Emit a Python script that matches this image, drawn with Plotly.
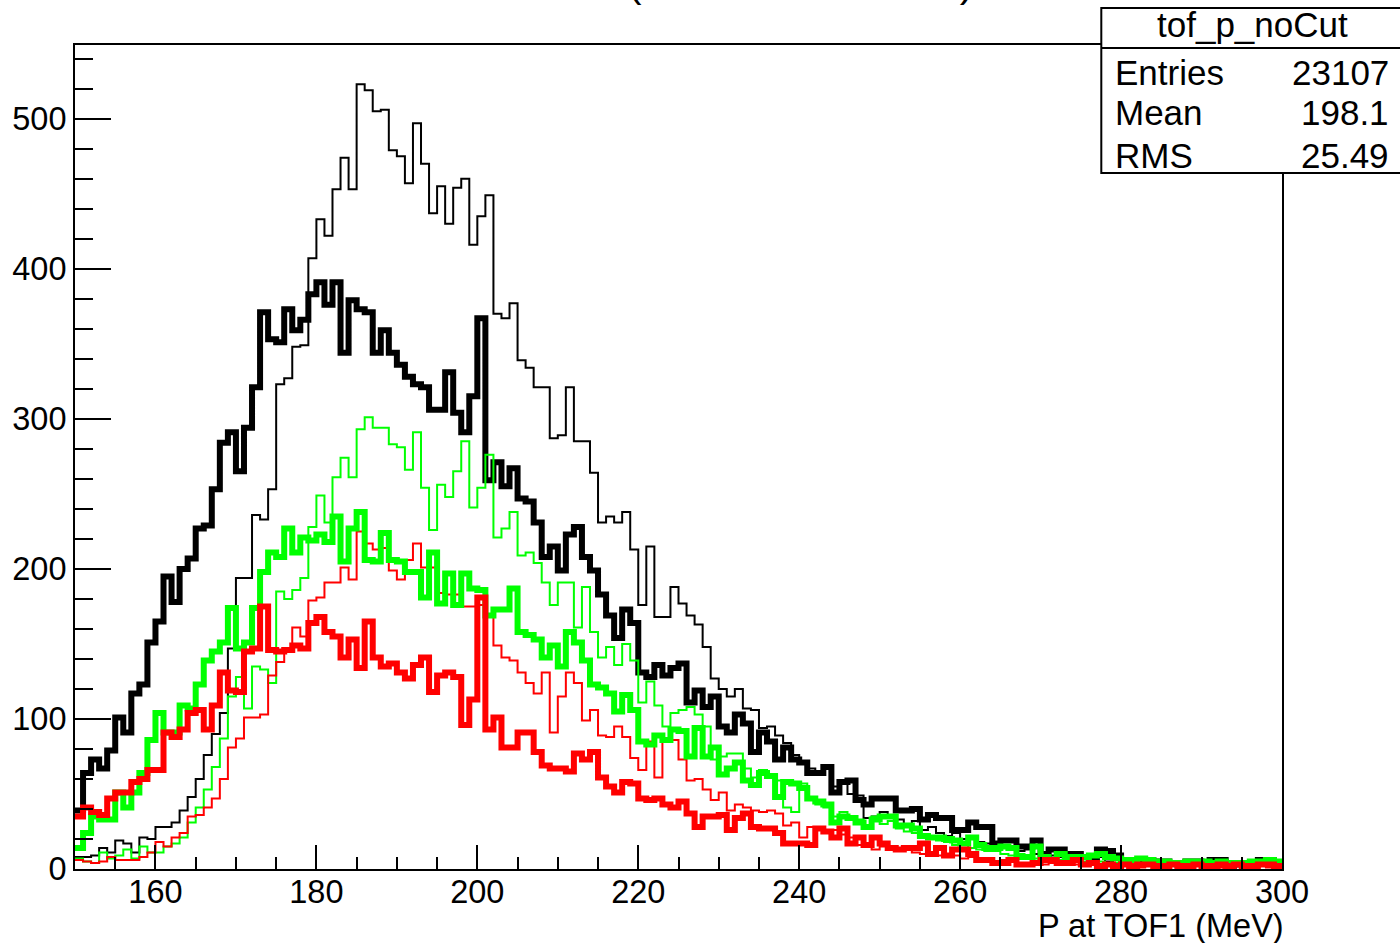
import numpy as np
import plotly.graph_objects as go

# Binning: 150 bins of 1 MeV from 150 to 300 MeV
bin_lo = 150
bin_hi = 300

# Momentum at TOF1, all tracks (thin black)
all_thin = [
    8, 8, 9, 14, 11, 19, 17, 11, 21, 20,
    28, 28, 31, 39, 48, 60, 76, 90, 104, 147,
    194, 194, 236, 233, 253, 323, 327, 348, 349, 407,
    433, 422, 453, 474, 453, 523, 519, 505, 506, 479,
    475, 457, 497, 470, 437, 455, 430, 454, 460, 416,
    435, 449, 370, 367, 377, 339, 334, 321, 321, 287,
    289, 321, 285, 285, 264, 231, 235, 231, 238, 213,
    176, 215, 168, 168, 188, 177, 169, 163, 148, 127,
    120, 115, 120, 107, 106, 94, 95, 89, 84, 76,
    71, 67, 65, 68, 55, 57, 50, 49, 34, 35,
    38, 35, 33, 30, 32, 26, 28, 24, 22, 24,
    20, 21, 18, 17, 15, 14, 13, 12, 13, 10,
    10, 9, 8, 8, 7, 7, 6, 8, 5, 6,
    5, 5, 4, 6, 4, 5, 3, 4, 3, 4,
    3, 5, 3, 3, 4, 3, 2, 4, 3, 3,
]

# Thick black selection
all_thick = [
    39, 64, 73, 67, 79, 101, 91, 117, 123, 151,
    165, 195, 178, 200, 207, 227, 229, 253, 284, 291,
    265, 294, 321, 371, 353, 351, 373, 359, 366, 383,
    391, 376, 391, 344, 379, 373, 371, 344, 359, 344,
    336, 328, 323, 321, 306, 306, 331, 304, 291, 315,
    367, 259, 271, 255, 267, 247, 245, 231, 208, 215,
    199, 223, 228, 208, 199, 183, 169, 154, 173, 164,
    131, 128, 136, 129, 134, 137, 111, 119, 108, 115,
    95, 91, 103, 97, 78, 91, 85, 73, 81, 73,
    71, 64, 64, 68, 51, 58, 59, 46, 43, 47,
    47, 47, 39, 39, 40, 33, 36, 34, 34, 26,
    26, 31, 28, 28, 17, 19, 19, 15, 15, 19,
    10, 13, 13, 10, 10, 8, 7, 13, 12, 9,
    6, 6, 6, 6, 5, 5, 4, 3, 5, 5,
    4, 6, 6, 2, 3, 3, 3, 6, 6, 4,
]

# Green selection, thin outline
green_thin = [
    7, 5, 4, 11, 7, 9, 13, 7, 15, 11,
    11, 15, 17, 21, 31, 41, 53, 68, 87, 115,
    128, 107, 135, 133, 124, 185, 180, 186, 194, 228,
    249, 231, 261, 274, 261, 293, 301, 294, 294, 283,
    281, 266, 291, 254, 226, 256, 248, 265, 285, 241,
    254, 276, 221, 227, 238, 209, 211, 204, 191, 176,
    191, 191, 161, 188, 158, 141, 148, 136, 150, 139,
    111, 125, 109, 95, 104, 106, 108, 103, 95, 73,
    75, 77, 77, 67, 61, 66, 63, 59, 41, 38,
    57, 46, 43, 41, 35, 38, 35, 33, 28, 35,
    30, 32, 27, 25, 24, 22, 20, 19, 18, 16,
    17, 14, 13, 12, 12, 10, 9, 10, 8, 7,
    8, 6, 6, 5, 6, 5, 4, 5, 4, 4,
    3, 4, 3, 3, 4, 3, 2, 3, 3, 2,
    3, 2, 2, 3, 2, 2, 3, 2, 2, 3,
]

# Green selection, thick outline
green_thick = [
    14, 24, 35, 33, 33, 51, 41, 51, 64, 86,
    104, 91, 91, 109, 107, 123, 139, 145, 151, 174,
    147, 151, 174, 198, 211, 208, 227, 211, 221, 219,
    223, 218, 235, 205, 227, 238, 206, 205, 224, 206,
    205, 198, 198, 181, 211, 177, 197, 176, 197, 187,
    186, 169, 173, 173, 187, 158, 156, 153, 141, 149,
    135, 158, 151, 139, 123, 121, 117, 105, 116, 106,
    85, 83, 89, 86, 93, 92, 75, 94, 75, 81,
    63, 67, 71, 59, 56, 64, 62, 48, 58, 57,
    54, 47, 45, 43, 31, 35, 34, 31, 28, 33,
    35, 35, 29, 29, 27, 22, 21, 21, 20, 19,
    17, 21, 16, 14, 14, 15, 14, 8, 8, 15,
    8, 6, 10, 8, 8, 8, 9, 10, 8, 7,
    6, 6, 7, 6, 5, 5, 4, 4, 5, 5,
    5, 4, 5, 4, 4, 4, 5, 5, 6, 5,
]

# Red selection, thin outline
red_thin = [
    6, 5, 4, 5, 8, 6, 6, 6, 8, 11,
    18, 15, 21, 24, 35, 36, 41, 47, 60, 81,
    87, 101, 101, 103, 129, 138, 147, 161, 155, 179,
    181, 191, 191, 201, 193, 225, 217, 213, 214, 199,
    193, 206, 217, 201, 201, 184, 183, 183, 175, 175,
    176, 170, 149, 141, 139, 131, 124, 117, 131, 91,
    115, 131, 124, 99, 106, 89, 88, 95, 88, 74,
    66, 85, 61, 85, 86, 73, 59, 60, 53, 46,
    51, 39, 43, 41, 39, 38, 39, 37, 29, 31,
    21, 28, 27, 25, 26, 23, 21, 16, 15, 13,
    15, 14, 12, 13, 11, 10, 11, 9, 8, 9,
    7, 8, 6, 6, 5, 6, 5, 4, 4, 5,
    3, 4, 3, 3, 3, 2, 3, 2, 2, 3,
    2, 2, 1, 2, 2, 1, 2, 2, 1, 2,
    1, 2, 1, 1, 2, 1, 1, 2, 1, 1,
]

# Red selection, thick outline
red_thick = [
    35, 41, 38, 36, 47, 51, 51, 58, 60, 66,
    66, 91, 88, 93, 104, 106, 93, 109, 131, 119,
    118, 145, 147, 175, 146, 145, 146, 149, 147, 164,
    168, 158, 155, 141, 153, 134, 165, 141, 135, 137,
    131, 127, 136, 141, 118, 129, 131, 128, 96, 113,
    181, 93, 101, 81, 81, 91, 91, 78, 69, 67,
    67, 65, 77, 73, 78, 61, 55, 51, 58, 57,
    47, 46, 47, 43, 41, 45, 37, 28, 35, 35,
    36, 26, 34, 37, 28, 27, 27, 24, 17, 17,
    17, 16, 27, 25, 21, 27, 17, 21, 16, 21,
    17, 14, 13, 14, 14, 17, 10, 14, 9, 13,
    13, 10, 6, 6, 4, 4, 6, 3, 3, 4,
    6, 6, 4, 4, 6, 3, 4, 2, 3, 2,
    3, 2, 3, 3, 2, 2, 3, 2, 2, 3,
    2, 2, 3, 2, 3, 2, 2, 3, 3, 2,
]

stats_labels = ["Entries", "Mean", "RMS"]
stats_values = ["23107", "198.1", "25.49"]
hist_name = "tof_p_noCut"
hist_title = "P at TOF1 (all PID selections)"
x_title = "P at TOF1 (MeV)"

edges = np.arange(bin_lo, bin_hi + 1)
FONT = "Liberation Sans"
AXIS_FS = 32.5
STAT_FS = 35

# Plot-area geometry in pixels
W, H = 1400, 943
L, R, T, B = 73, 1282, 45, 869
pw, ph = R - L, B - T


def px_x(p):
    return (p - L) / pw


def px_y(p):
    return (B - p) / ph


def step_trace(vals, color, width):
    y = list(vals) + [vals[-1]]
    return go.Scatter(
        x=edges, y=y, mode="lines", line_shape="hv",
        line=dict(color=color, width=width), hoverinfo="skip",
        showlegend=False,
    )


fig = go.Figure()
fig.add_trace(step_trace(all_thin, "#000000", 2))
fig.add_trace(step_trace(all_thick, "#000000", 6))
fig.add_trace(step_trace(green_thin, "#00ff00", 2))
fig.add_trace(step_trace(red_thin, "#ff0000", 2))
fig.add_trace(step_trace(green_thick, "#00ff00", 6))
fig.add_trace(step_trace(red_thick, "#ff0000", 6))

ymax = max(all_thin) * 1.05

fig.update_xaxes(
    range=[bin_lo, bin_hi], showline=True, linecolor="black", linewidth=2,
    mirror=True, ticks="inside", ticklen=24, tickwidth=2, tickcolor="black",
    tick0=0, dtick=20, showgrid=False, zeroline=False,
    ticklabelstandoff=-7,
    minor=dict(ticks="inside", ticklen=12, dtick=5, tick0=0,
               tickwidth=2, tickcolor="black", showgrid=False),
    tickfont=dict(family=FONT, size=AXIS_FS, color="black"),
)
fig.update_yaxes(
    range=[0, ymax], showline=True, linecolor="black", linewidth=2,
    mirror=True, ticks="inside", ticklen=36, tickwidth=2, tickcolor="black",
    tick0=0, dtick=100, showgrid=False, zeroline=False,
    minor=dict(ticks="inside", ticklen=18, dtick=20, tick0=0,
               tickwidth=2, tickcolor="black", showgrid=False),
    tickfont=dict(family=FONT, size=AXIS_FS, color="black"),
)

# Statistics box
bx0, bx1, by_top, by_bot, by_sep = 1101, 1403, 8, 173, 48
shapes = [
    dict(type="rect", xref="paper", yref="paper", layer="above",
         x0=px_x(bx0), x1=px_x(bx1), y0=px_y(by_bot), y1=px_y(by_top),
         line=dict(color="black", width=2), fillcolor="white"),
    dict(type="line", xref="paper", yref="paper", layer="above",
         x0=px_x(bx0), x1=px_x(bx1), y0=px_y(by_sep), y1=px_y(by_sep),
         line=dict(color="black", width=2)),
]

annotations = [
    dict(text=hist_name, xref="paper", yref="paper", x=px_x(1252),
         y=px_y(24), xanchor="center", yanchor="middle", showarrow=False,
         font=dict(family=FONT, size=STAT_FS, color="black")),
]
rows_y = [72, 113, 155]
for lab, val, yy in zip(stats_labels, stats_values, rows_y):
    annotations.append(dict(text=lab, xref="paper", yref="paper",
                            x=px_x(1113), y=px_y(yy), xanchor="left",
                            yanchor="middle", showarrow=False,
                            font=dict(family=FONT, size=STAT_FS,
                                      color="black")))
    annotations.append(dict(text=val, xref="paper", yref="paper",
                            x=px_x(1391), y=px_y(yy), xanchor="right",
                            yanchor="middle", showarrow=False,
                            font=dict(family=FONT, size=STAT_FS,
                                      color="black")))

# Axis title, right-aligned under the x axis
annotations.append(dict(text=x_title, xref="paper", yref="paper",
                        x=px_x(1286), y=px_y(926), xanchor="right",
                        yanchor="middle", showarrow=False,
                        font=dict(family=FONT, size=AXIS_FS, color="black")))

# Histogram title at the top edge of the canvas
annotations.append(dict(text=hist_title, xref="paper", yref="paper",
                        x=px_x(700), y=px_y(8), xanchor="center",
                        yanchor="bottom", showarrow=False,
                        font=dict(family=FONT, size=41.5, color="black")))

fig.update_layout(
    width=W, height=H,
    margin=dict(l=L, r=W - R, t=T, b=H - B, pad=0),
    paper_bgcolor="white", plot_bgcolor="white",
    shapes=shapes, annotations=annotations,
    showlegend=False,
)

fig.write_html("out.html")
